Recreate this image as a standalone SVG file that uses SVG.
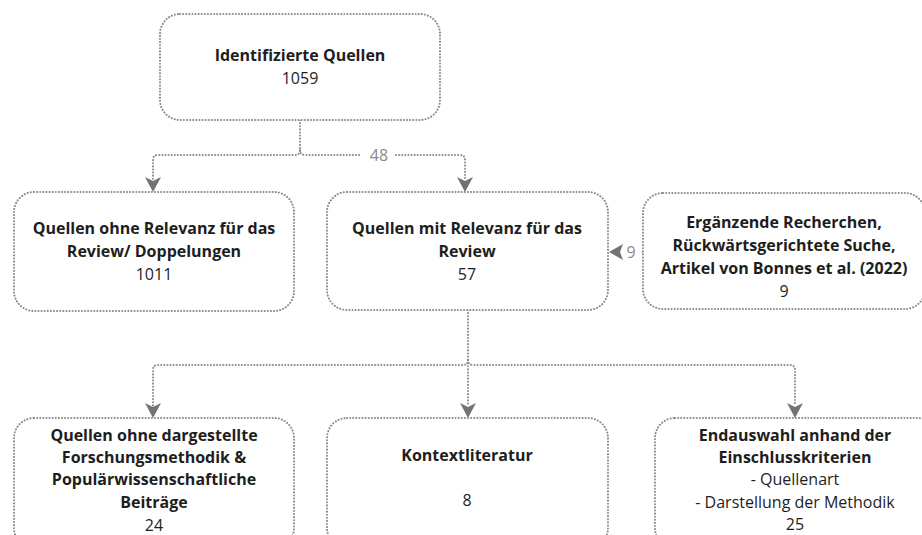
<svg xmlns="http://www.w3.org/2000/svg" width="922" height="535" viewBox="0 0 922 535">
<defs>
<style>
.box{fill:#fff;stroke:#8a8a8a;stroke-width:2;stroke-dasharray:0.1 3;stroke-linecap:round}
.con{fill:none;stroke:#8a8a8a;stroke-width:2;stroke-dasharray:0.1 3;stroke-linecap:round}
.arr{fill:#737373}
text{font-family:"Open Sans","Noto Sans","DejaVu Sans",sans-serif;font-size:16px;fill:#1e1e1e;text-anchor:middle}
.b{font-weight:bold}
.lbl{fill:#8a8a8a}
</style>
<path id="ad" class="arr" d="M-8,-15 L0,-11 L8,-15 L0,0 Z"/>
</defs>
<rect width="922" height="535" fill="#fff"/>
<g id="connectors">
<path class="con" d="M300,120 V150 Q300,155 295,155 H158 Q153,155 153,160 V180"/>
<path class="con" d="M300,150 Q300,155 305,155 H362 M396,155 H460 Q465,155 465,160 V180"/>
<use href="#ad" x="153" y="192"/>
<use href="#ad" x="465" y="192"/>
<text class="lbl" x="379" y="161">48</text>
<path class="con" d="M643,252 H640"/>
<path class="arr" d="M623,244 L620,252 L623,260 L609,252 Z"/>
<text class="lbl" x="631" y="258">9</text>
<path class="con" d="M468,310 V360 Q468,365 463,365 H158 Q153,365 153,370 V406"/>
<path class="con" d="M468,360 Q468,365 473,365 H790 Q795,365 795,370 V406"/>
<path class="con" d="M468,360 V406"/>
<use href="#ad" x="153" y="418"/>
<use href="#ad" x="468" y="418"/>
<use href="#ad" x="795" y="418"/>
</g>
<g id="n1">
<rect class="box" x="160" y="14" width="280" height="106" rx="20"/>
<text class="b" x="300" y="61">Identifizierte Quellen</text>
<text x="300" y="84">1059</text>
</g>
<g id="n2">
<rect class="box" x="14" y="192" width="280" height="119" rx="20"/>
<text class="b" x="154" y="234">Quellen ohne Relevanz für das</text>
<text class="b" x="154" y="257">Review/ Doppelungen</text>
<text x="154" y="280">1011</text>
</g>
<g id="n3">
<rect class="box" x="327" y="192" width="281" height="118" rx="20"/>
<text class="b" x="467" y="234">Quellen mit Relevanz für das</text>
<text class="b" x="467" y="257">Review</text>
<text x="467" y="280">57</text>
</g>
<g id="n4">
<rect class="box" x="643" y="193" width="282" height="116" rx="20"/>
<text class="b" x="784" y="228">Ergänzende Recherchen,</text>
<text class="b" x="784" y="251">Rückwärtsgerichtete Suche,</text>
<text class="b" x="784" y="274">Artikel von Bonnes et al. (2022)</text>
<text x="784" y="297">9</text>
</g>
<g id="n5">
<rect class="box" x="14" y="418" width="280" height="130" rx="20"/>
<text class="b" x="154" y="441">Quellen ohne dargestellte</text>
<text class="b" x="154" y="463">Forschungsmethodik &amp;</text>
<text class="b" x="154" y="485">Populärwissenschaftliche</text>
<text class="b" x="154" y="508">Beiträge</text>
<text x="154" y="531">24</text>
</g>
<g id="n6">
<rect class="box" x="327" y="418" width="281" height="130" rx="20"/>
<text class="b" x="467" y="461">Kontextliteratur</text>
<text x="467" y="506">8</text>
</g>
<g id="n7">
<rect class="box" x="655" y="418" width="282" height="130" rx="20"/>
<text class="b" x="795" y="441">Endauswahl anhand der</text>
<text class="b" x="795" y="463">Einschlusskriterien</text>
<text x="795" y="485">- Quellenart</text>
<text x="795" y="508">- Darstellung der Methodik</text>
<text x="795" y="530">25</text>
</g>
</svg>
